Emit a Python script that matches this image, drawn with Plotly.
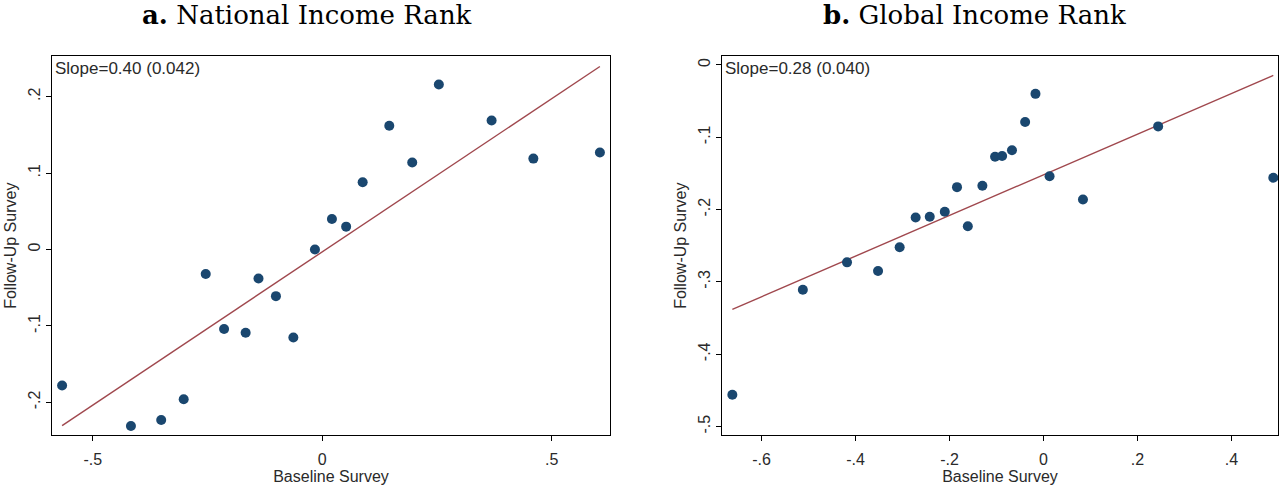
import plotly.graph_objects as go
import numpy as np

# Panel a: National Income Rank
nat_baseline = [-0.567, -0.417, -0.351, -0.302, -0.254, -0.214, -0.167, -0.139, -0.101, -0.063,
                -0.016, 0.021, 0.052, 0.088, 0.146, 0.196, 0.254, 0.369, 0.460, 0.605]
nat_followup = [-0.178, -0.231, -0.223, -0.196, -0.032, -0.104, -0.109, -0.038, -0.061, -0.115,
                0.000, 0.040, 0.030, 0.088, 0.162, 0.114, 0.216, 0.169, 0.119, 0.127]
nat_slope, nat_intercept = 0.401, -0.003

# Panel b: Global Income Rank
glob_baseline = [-0.662, -0.512, -0.418, -0.352, -0.306, -0.272, -0.242, -0.210, -0.184, -0.161,
                 -0.130, -0.103, -0.088, -0.067, -0.039, -0.017, 0.013, 0.084, 0.244, 0.489]
glob_followup = [-0.456, -0.311, -0.273, -0.285, -0.252, -0.211, -0.210, -0.203, -0.169, -0.223,
                 -0.167, -0.127, -0.126, -0.118, -0.079, -0.040, -0.154, -0.186, -0.085, -0.156]
glob_slope, glob_intercept = 0.281, -0.152

titles = ["<b>a.</b> National Income Rank", "<b>b.</b> Global Income Rank"]
slope_labels = ["Slope=0.40 (0.042)", "Slope=0.28 (0.040)"]

nat_xticks = [-0.5, 0, 0.5]
nat_xtext = ["-.5", "0", ".5"]
nat_yticks = [0.2, 0.1, 0, -0.1, -0.2]
nat_ytext = [".2", ".1", "0", "-.1", "-.2"]
glob_xticks = [-0.6, -0.4, -0.2, 0, 0.2, 0.4]
glob_xtext = ["-.6", "-.4", "-.2", "0", ".2", ".4"]
glob_yticks = [0, -0.1, -0.2, -0.3, -0.4, -0.5]
glob_ytext = ["0", "-.1", "-.2", "-.3", "-.4", "-.5"]

NAVY = "#1a476f"
MAROON = "#a0484e"
SANS = "Liberation Sans, Arial, sans-serif"
SERIF = "DejaVu Serif, serif"
TXT = "#2a2a2a"

fig = go.Figure()

panels = [
    (nat_baseline, nat_followup, nat_slope, nat_intercept, "x", "y"),
    (glob_baseline, glob_followup, glob_slope, glob_intercept, "x2", "y2"),
]
for xs, ys, b, a, xa, ya in panels:
    xs_arr = np.array(xs)
    lx = np.array([xs_arr.min(), xs_arr.max()])
    fig.add_trace(go.Scatter(x=lx, y=a + b * lx, mode="lines",
                             line=dict(color=MAROON, width=1.4),
                             xaxis=xa, yaxis=ya, showlegend=False, hoverinfo="skip"))
    fig.add_trace(go.Scatter(x=xs, y=ys, mode="markers",
                             marker=dict(color=NAVY, size=10),
                             xaxis=xa, yaxis=ya, showlegend=False))

axis_common = dict(showgrid=False, zeroline=False, showline=True, linecolor="black",
                   linewidth=1.2, mirror=True, ticks="outside", ticklen=5,
                   tickcolor="black", tickfont=dict(family=SANS, size=16, color=TXT))
title_font = dict(family=SANS, size=16, color=TXT)

fig.update_layout(
    width=1281, height=489,
    margin=dict(l=0, r=0, t=0, b=0),
    paper_bgcolor="white", plot_bgcolor="white",
    xaxis=dict(domain=[52/1281, 610/1281], range=[-0.589, 0.627],
               tickvals=nat_xticks, ticktext=nat_xtext, ticklabelstandoff=4,
               title=dict(text="Baseline Survey", font=title_font, standoff=0),
               anchor="y", **axis_common),
    yaxis=dict(domain=[0.110, 0.885], range=[-0.243, 0.253],
               tickvals=nat_yticks, ticktext=nat_ytext, tickangle=-90,
               title=dict(text="Follow-Up Survey", font=title_font, standoff=4),
               anchor="x", **axis_common),
    xaxis2=dict(domain=[722/1281, 1278/1281], range=[-0.684, 0.499],
                tickvals=glob_xticks, ticktext=glob_xtext, ticklabelstandoff=4,
                title=dict(text="Baseline Survey", font=title_font, standoff=0),
                anchor="y2", **axis_common),
    yaxis2=dict(domain=[0.110, 0.885], range=[-0.512, 0.012],
                tickvals=glob_yticks, ticktext=glob_ytext, tickangle=-90,
                title=dict(text="Follow-Up Survey", font=title_font, standoff=4),
                anchor="x2", **axis_common),
)

annotations = [
    dict(text=titles[0], x=307 / 1281, y=1 - 15/489, xref="paper", yref="paper",
         showarrow=False, font=dict(family=SERIF, size=26, color="black"), xanchor="center", yanchor="middle"),
    dict(text=titles[1], x=974 / 1281, y=1 - 15/489, xref="paper", yref="paper",
         showarrow=False, font=dict(family=SERIF, size=26, color="black"), xanchor="center", yanchor="middle"),
    dict(text=slope_labels[0], x=0, y=1, xref="x domain", yref="y domain", xanchor="left", yanchor="top",
         showarrow=False, xshift=1, yshift=-1, font=dict(family=SANS, size=17, color=TXT)),
    dict(text=slope_labels[1], x=0, y=1, xref="x2 domain", yref="y2 domain", xanchor="left", yanchor="top",
         showarrow=False, xshift=1, yshift=-1, font=dict(family=SANS, size=17, color=TXT)),
]
fig.update_layout(annotations=annotations)

fig.write_html("out.html")
